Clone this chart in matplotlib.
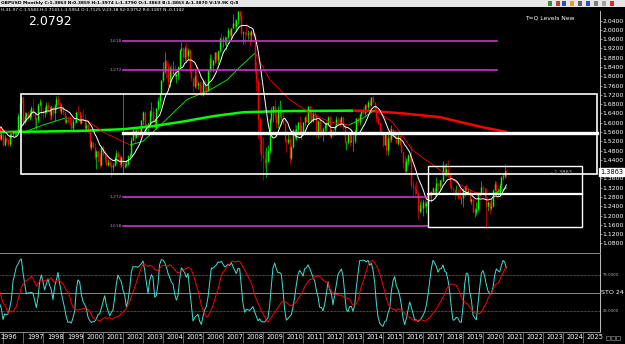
import numpy as np
import pandas as pd
import matplotlib
matplotlib.use("Agg")
import matplotlib.pyplot as plt
import matplotlib.transforms as mtransforms
from matplotlib.collections import LineCollection
from matplotlib.patches import Rectangle

plt.rcParams['font.family'] = ['DejaVu Sans']

W, H = 625, 344

# GBPUSD monthly bars, Jan 1995 .. Mar 2021 (open = previous close)
first_year = 1995
closes = [
    1.582, 1.579, 1.618, 1.611, 1.584, 1.594, 1.600, 1.547, 1.580, 1.580, 1.531, 1.553,  # 1995
    1.505, 1.534, 1.527, 1.508, 1.550, 1.552, 1.554, 1.557, 1.565, 1.630, 1.685, 1.712,  # 1996
    1.603, 1.630, 1.640, 1.620, 1.640, 1.665, 1.640, 1.610, 1.611, 1.675, 1.690, 1.646,  # 1997
    1.641, 1.648, 1.678, 1.668, 1.632, 1.669, 1.640, 1.675, 1.700, 1.680, 1.650, 1.664,  # 1998
    1.644, 1.605, 1.611, 1.609, 1.602, 1.578, 1.607, 1.605, 1.647, 1.646, 1.598, 1.617,  # 1999
    1.614, 1.577, 1.592, 1.564, 1.494, 1.519, 1.497, 1.453, 1.478, 1.451, 1.420, 1.494,  # 2000
    1.464, 1.444, 1.419, 1.431, 1.418, 1.408, 1.420, 1.452, 1.469, 1.452, 1.421, 1.452,  # 2001
    1.414, 1.418, 1.423, 1.456, 1.462, 1.527, 1.567, 1.540, 1.569, 1.562, 1.556, 1.610,  # 2002
    1.648, 1.577, 1.580, 1.596, 1.650, 1.651, 1.610, 1.577, 1.663, 1.694, 1.722, 1.784,  # 2003
    1.822, 1.866, 1.842, 1.774, 1.834, 1.814, 1.818, 1.801, 1.810, 1.838, 1.911, 1.920,  # 2004
    1.883, 1.922, 1.889, 1.911, 1.819, 1.792, 1.758, 1.801, 1.764, 1.770, 1.727, 1.720,  # 2005
    1.778, 1.754, 1.736, 1.825, 1.879, 1.849, 1.868, 1.903, 1.870, 1.907, 1.963, 1.958,  # 2006
    1.962, 1.963, 1.968, 1.999, 1.979, 2.008, 2.031, 2.015, 2.044, 2.081, 2.061, 1.985,  # 2007
    1.989, 1.987, 1.984, 1.985, 1.979, 1.993, 1.980, 1.822, 1.781, 1.616, 1.537, 1.460,  # 2008
    1.449, 1.432, 1.434, 1.480, 1.617, 1.646, 1.671, 1.629, 1.599, 1.646, 1.647, 1.615,  # 2009
    1.598, 1.523, 1.517, 1.529, 1.450, 1.496, 1.569, 1.533, 1.572, 1.603, 1.560, 1.561,  # 2010
    1.603, 1.625, 1.604, 1.670, 1.647, 1.606, 1.643, 1.632, 1.559, 1.606, 1.567, 1.553,  # 2011
    1.576, 1.592, 1.600, 1.624, 1.542, 1.569, 1.568, 1.587, 1.615, 1.614, 1.602, 1.626,  # 2012
    1.587, 1.517, 1.519, 1.553, 1.519, 1.520, 1.521, 1.551, 1.619, 1.603, 1.636, 1.656,  # 2013
    1.643, 1.675, 1.667, 1.688, 1.675, 1.711, 1.688, 1.658, 1.622, 1.600, 1.564, 1.558,  # 2014
    1.505, 1.545, 1.482, 1.534, 1.528, 1.572, 1.562, 1.536, 1.514, 1.543, 1.505, 1.474,  # 2015
    1.425, 1.392, 1.437, 1.461, 1.449, 1.331, 1.322, 1.313, 1.297, 1.221, 1.247, 1.234,  # 2016
    1.258, 1.241, 1.255, 1.294, 1.289, 1.302, 1.321, 1.293, 1.340, 1.328, 1.352, 1.350,  # 2017
    1.419, 1.377, 1.402, 1.376, 1.330, 1.320, 1.313, 1.300, 1.303, 1.276, 1.275, 1.275,  # 2018
    1.311, 1.326, 1.303, 1.304, 1.263, 1.270, 1.216, 1.216, 1.229, 1.294, 1.293, 1.325,  # 2019
    1.320, 1.282, 1.241, 1.258, 1.234, 1.240, 1.310, 1.337, 1.292, 1.293, 1.333, 1.368,  # 2020
    1.371, 1.393, 1.386,                                                                 # 2021
]
highs = [
    1.600, 1.595, 1.625, 1.625, 1.612, 1.606, 1.616, 1.600, 1.588, 1.594, 1.585, 1.560,
    1.557, 1.548, 1.540, 1.532, 1.556, 1.562, 1.565, 1.570, 1.570, 1.640, 1.690, 1.715,
    1.717, 1.645, 1.648, 1.650, 1.653, 1.671, 1.701, 1.648, 1.625, 1.687, 1.704, 1.697,
    1.660, 1.667, 1.689, 1.688, 1.670, 1.677, 1.669, 1.680, 1.713, 1.720, 1.690, 1.686,
    1.672, 1.648, 1.630, 1.629, 1.633, 1.617, 1.615, 1.617, 1.650, 1.677, 1.652, 1.632,
    1.658, 1.637, 1.602, 1.600, 1.573, 1.525, 1.523, 1.511, 1.482, 1.483, 1.471, 1.500,
    1.504, 1.484, 1.463, 1.444, 1.448, 1.423, 1.427, 1.456, 1.481, 1.479, 1.459, 1.458,
    1.459, 1.433, 1.438, 1.463, 1.470, 1.540, 1.584, 1.569, 1.572, 1.575, 1.584, 1.612,
    1.651, 1.650, 1.593, 1.602, 1.653, 1.690, 1.668, 1.615, 1.665, 1.712, 1.726, 1.785,
    1.860, 1.905, 1.870, 1.855, 1.843, 1.853, 1.867, 1.848, 1.812, 1.844, 1.918, 1.949,
    1.926, 1.929, 1.945, 1.921, 1.916, 1.834, 1.796, 1.826, 1.842, 1.781, 1.780, 1.761,
    1.786, 1.784, 1.760, 1.827, 1.895, 1.895, 1.870, 1.905, 1.906, 1.912, 1.969, 1.985,
    1.973, 1.973, 1.969, 2.009, 2.004, 2.009, 2.066, 2.050, 2.047, 2.083, 2.116, 2.071,
    1.996, 1.990, 2.031, 2.000, 1.993, 1.999, 2.006, 1.985, 1.867, 1.790, 1.622, 1.550,
    1.537, 1.484, 1.497, 1.504, 1.620, 1.666, 1.674, 1.701, 1.664, 1.672, 1.697, 1.680,
    1.645, 1.617, 1.536, 1.561, 1.544, 1.506, 1.571, 1.595, 1.590, 1.604, 1.630, 1.590,
    1.604, 1.630, 1.637, 1.673, 1.673, 1.650, 1.647, 1.659, 1.637, 1.613, 1.617, 1.577,
    1.577, 1.597, 1.603, 1.631, 1.628, 1.570, 1.575, 1.588, 1.631, 1.624, 1.617, 1.631,
    1.631, 1.590, 1.523, 1.555, 1.562, 1.575, 1.546, 1.571, 1.621, 1.625, 1.638, 1.660,
    1.666, 1.680, 1.682, 1.696, 1.700, 1.712, 1.719, 1.690, 1.667, 1.628, 1.601, 1.578,
    1.560, 1.553, 1.548, 1.546, 1.582, 1.590, 1.578, 1.574, 1.566, 1.551, 1.545, 1.512,
    1.478, 1.459, 1.447, 1.466, 1.470, 1.502, 1.348, 1.336, 1.350, 1.300, 1.261, 1.270,
    1.270, 1.270, 1.262, 1.297, 1.305, 1.305, 1.322, 1.323, 1.366, 1.342, 1.353, 1.356,
    1.436, 1.422, 1.425, 1.438, 1.384, 1.342, 1.323, 1.314, 1.330, 1.318, 1.322, 1.280,
    1.321, 1.327, 1.338, 1.320, 1.313, 1.276, 1.272, 1.231, 1.258, 1.301, 1.299, 1.351,
    1.330, 1.321, 1.320, 1.265, 1.262, 1.274, 1.314, 1.348, 1.348, 1.318, 1.340, 1.370,
    1.380, 1.424, 1.401,
]
lows = [
    1.555, 1.545, 1.565, 1.595, 1.566, 1.578, 1.585, 1.540, 1.535, 1.567, 1.525, 1.524,
    1.500, 1.503, 1.515, 1.500, 1.501, 1.533, 1.537, 1.541, 1.548, 1.557, 1.620, 1.649,
    1.592, 1.596, 1.608, 1.607, 1.612, 1.625, 1.630, 1.577, 1.575, 1.603, 1.670, 1.625,
    1.614, 1.626, 1.643, 1.651, 1.613, 1.618, 1.625, 1.609, 1.664, 1.670, 1.640, 1.638,
    1.633, 1.596, 1.599, 1.598, 1.589, 1.570, 1.568, 1.589, 1.597, 1.638, 1.594, 1.593,
    1.611, 1.557, 1.565, 1.557, 1.488, 1.482, 1.491, 1.443, 1.402, 1.431, 1.405, 1.412,
    1.455, 1.433, 1.416, 1.414, 1.410, 1.368, 1.393, 1.414, 1.427, 1.436, 1.410, 1.409,
    1.405, 1.407, 1.410, 1.417, 1.441, 1.457, 1.523, 1.513, 1.533, 1.538, 1.540, 1.553,
    1.592, 1.570, 1.555, 1.553, 1.590, 1.630, 1.602, 1.571, 1.572, 1.656, 1.665, 1.718,
    1.777, 1.813, 1.791, 1.758, 1.755, 1.804, 1.811, 1.791, 1.772, 1.790, 1.831, 1.908,
    1.862, 1.866, 1.867, 1.869, 1.814, 1.781, 1.734, 1.748, 1.750, 1.746, 1.719, 1.718,
    1.716, 1.737, 1.724, 1.735, 1.820, 1.818, 1.819, 1.856, 1.858, 1.852, 1.904, 1.947,
    1.927, 1.934, 1.914, 1.961, 1.971, 1.963, 2.007, 1.994, 1.995, 2.024, 2.043, 1.975,
    1.937, 1.939, 1.975, 1.962, 1.931, 1.948, 1.971, 1.812, 1.736, 1.532, 1.468, 1.435,
    1.352, 1.405, 1.366, 1.431, 1.469, 1.601, 1.605, 1.614, 1.579, 1.576, 1.626, 1.590,
    1.588, 1.519, 1.473, 1.508, 1.423, 1.440, 1.492, 1.530, 1.525, 1.558, 1.555, 1.530,
    1.547, 1.586, 1.599, 1.598, 1.611, 1.599, 1.603, 1.620, 1.538, 1.533, 1.538, 1.542,
    1.523, 1.559, 1.566, 1.588, 1.538, 1.533, 1.537, 1.549, 1.582, 1.592, 1.581, 1.599,
    1.570, 1.513, 1.484, 1.510, 1.499, 1.518, 1.480, 1.512, 1.549, 1.588, 1.590, 1.627,
    1.633, 1.633, 1.648, 1.649, 1.669, 1.671, 1.686, 1.653, 1.605, 1.588, 1.558, 1.548,
    1.495, 1.503, 1.459, 1.462, 1.517, 1.519, 1.537, 1.533, 1.513, 1.505, 1.500, 1.468,
    1.406, 1.380, 1.388, 1.420, 1.432, 1.313, 1.280, 1.288, 1.294, 1.184, 1.211, 1.222,
    1.198, 1.234, 1.211, 1.237, 1.281, 1.259, 1.293, 1.273, 1.286, 1.306, 1.305, 1.330,
    1.348, 1.370, 1.370, 1.370, 1.321, 1.305, 1.300, 1.266, 1.290, 1.270, 1.270, 1.249,
    1.238, 1.284, 1.297, 1.290, 1.260, 1.250, 1.212, 1.196, 1.204, 1.220, 1.280, 1.290,
    1.296, 1.272, 1.141, 1.219, 1.207, 1.224, 1.238, 1.307, 1.276, 1.285, 1.285, 1.320,
    1.352, 1.362, 1.368,
]

# moving averages (year, price)
mid_ma_t = [1995.85, 1996.5, 1997.0, 1998.0, 1999.1, 2000.2, 2001.0, 2002.35, 2003.0, 2004.0,
            2005.2, 2006.35, 2007.2, 2007.85, 2008.6, 2009.35, 2010.35, 2011.35, 2012.35,
            2013.3, 2014.0, 2014.6, 2015.5, 2016.5, 2017.85, 2018.7, 2019.6, 2020.4, 2021.2]
mid_ma_v = [1.570, 1.555, 1.558, 1.590, 1.620, 1.610, 1.560, 1.504, 1.520, 1.600,
            1.700, 1.741, 1.784, 1.840, 1.900, 1.784, 1.698, 1.642, 1.603,
            1.590, 1.620, 1.655, 1.600, 1.480, 1.396, 1.340, 1.300, 1.290, 1.320]
slow_ma_t = [1995.85, 1998.0, 2000.0, 2002.0, 2003.5, 2005.0, 2006.5, 2008.0, 2010.0,
             2012.0, 2013.5, 2014.5, 2016.0, 2017.85, 2019.0, 2020.0, 2021.2]
slow_ma_v = [1.560, 1.562, 1.565, 1.572, 1.585, 1.605, 1.628, 1.645, 1.650,
             1.651, 1.652, 1.650, 1.640, 1.624, 1.600, 1.580, 1.560]

# drawn objects
box_big = (1996.9, 2025.7, 1.3786, 1.7241)
box_mid_line = (2002.0, 2025.7, 1.5536)
box_small = (2017.25, 2024.95, 1.1510, 1.4136)
box_small_mid = 1.2916
fib_upper = [1.952, 1.827]
fib_lower = [1.280, 1.155]
fib_labels_upper = ['1.618', '1.272']
fib_labels_lower = ['1.272', '1.618']
fib_x_upper = (2002.0, 2020.7)
fib_x_lower = (2002.0, 2017.25)
vline_t = 2002.0

price_ticks = [2.04, 2.00, 1.96, 1.92, 1.88, 1.84, 1.80, 1.76, 1.72, 1.68, 1.64, 1.60,
               1.56, 1.52, 1.48, 1.44, 1.36, 1.32, 1.28, 1.24, 1.20, 1.16, 1.12, 1.08]
years = list(range(1996, 2026))
last_price = 1.3863
ymax_price = 2.0792

# ---------- derived series ----------
c = np.array(closes)
hi = np.array(highs)
lo = np.array(lows)
o = np.r_[c[0], c[:-1]]
hi = np.maximum(hi, np.maximum(o, c))
lo = np.minimum(lo, np.minimum(o, c))
t = first_year + np.arange(len(c)) / 12.0
sma10 = pd.Series(c).rolling(10).mean().values


def stoch(period, smooth):
    hh = pd.Series(hi).rolling(period, min_periods=1).max()
    ll = pd.Series(lo).rolling(period, min_periods=1).min()
    raw = (pd.Series(c) - ll) / (hh - ll) * 100
    return raw.rolling(smooth, min_periods=1).mean()


k_line = stoch(8, 3)
d_line = stoch(21, 9)


def px(x, y):
    return x / W, 1 - y / H


fig = plt.figure(figsize=(W / 100, H / 100), dpi=100, facecolor='black')

# main price panel
l0, b0 = px(0, 253)
ax = fig.add_axes([l0, b0, 600 / W, (253 - 11.4) / H], facecolor='black')
ax.set_xlim(1995.85, 2025.85)
ax.set_ylim(1.0391, ymax_price)

# stochastic panel
l1, b1 = px(0, 332)
ax2 = fig.add_axes([l1, b1, 600 / W, (332 - 254) / H], facecolor='black')
ax2.set_xlim(1995.85, 2025.85)
ax2.set_ylim(-3, 103)

for a in (ax, ax2):
    for s in a.spines.values():
        s.set_visible(False)
    a.spines['right'].set_visible(True)
    a.spines['right'].set_color('#c0c0c0')
    a.spines['right'].set_linewidth(0.7)
    a.spines['bottom'].set_visible(True)
    a.spines['bottom'].set_color('#8a8a8a')
    a.spines['bottom'].set_linewidth(0.7)

# candles
up = c >= o
body_col = np.where(up, '#00ff00', '#ff0000')
ax.vlines(t, lo, hi, colors=body_col, lw=0.45, zorder=2)
ax.vlines(t, np.minimum(o, c), np.maximum(o, c), colors=body_col, lw=1.05, zorder=2)


def slope_line(a, xs, ys, lw, z):
    xs = np.asarray(xs)
    ys = np.asarray(ys)
    segs = [[(xs[i], ys[i]), (xs[i + 1], ys[i + 1])] for i in range(len(xs) - 1)]
    cols = ['#00ff00' if ys[i + 1] >= ys[i] else '#ff0000' for i in range(len(xs) - 1)]
    a.add_collection(LineCollection(segs, colors=cols, linewidths=lw, zorder=z))


slope_line(ax, slow_ma_t, slow_ma_v, 1.8, 3)
slope_line(ax, mid_ma_t, mid_ma_v, 0.6, 3)
ax.plot(t, sma10, color='white', lw=0.7, zorder=4)

# boxes and levels
x0, x1, y0, y1 = box_big
ax.add_patch(Rectangle((x0, y0), x1 - x0, y1 - y0, fill=False, ec='white', lw=1.2, zorder=5))
ax.plot([box_mid_line[0], box_mid_line[1]], [box_mid_line[2]] * 2, color='white', lw=2.4, zorder=5)
ax.plot([vline_t, vline_t], [y0, y1], color='#808080', lw=0.5, zorder=1)
x0, x1, y0, y1 = box_small
ax.add_patch(Rectangle((x0, y0), x1 - x0, y1 - y0, fill=False, ec='white', lw=1.0, zorder=5))
ax.plot([x0, x1], [box_small_mid] * 2, color='white', lw=1.6, zorder=5)
for lv, lb in zip(fib_upper, fib_labels_upper):
    ax.plot(fib_x_upper, [lv, lv], color='#cc33cc', lw=1.2, zorder=4)
    ax.text(fib_x_upper[0] - 0.05, lv, lb, color='#c080c0', fontsize=3.2, va='center', ha='right', zorder=6)
for lv, lb in zip(fib_lower, fib_labels_lower):
    ax.plot(fib_x_lower, [lv, lv], color='#cc33cc', lw=1.2, zorder=4)
    ax.text(fib_x_lower[0] - 0.05, lv, lb, color='#c080c0', fontsize=3.2, va='center', ha='right', zorder=6)
ax.text(2023.4, last_price, '- 1.3863', color='#b0b0b0', fontsize=3.6, va='center', ha='left', zorder=6)

# price axis
ax.yaxis.tick_right()
ax.set_yticks(price_ticks)
ax.set_yticklabels(['%.4f' % p for p in price_ticks])
ax.tick_params(axis='y', colors='#c0c0c0', labelcolor='white', labelsize=4.4, length=1.2, width=0.5, pad=0.6)
ax.set_xticks([])
ax.text(1.0, last_price, '1.3863', transform=mtransforms.blended_transform_factory(ax.transAxes, ax.transData),
        color='black', fontsize=4.8, va='center', ha='left', zorder=10, clip_on=False,
        bbox=dict(fc='white', ec='white', pad=0.8))

# stochastic
ax2.plot(t, k_line, color='#40e0d0', lw=0.7, zorder=3)
ax2.plot(t, d_line, color='#ff0000', lw=0.7, zorder=3)
ax2.axhline(75, color='#909090', lw=0.5, ls=(0, (1, 1)))
ax2.axhline(25, color='#909090', lw=0.5, ls=(0, (1, 1)))
ax2.axhline(50, color='#a0a0a0', lw=0.6)
ax2.set_yticks([])
ax2.text(1.005, 75, '75.0000', transform=mtransforms.blended_transform_factory(ax2.transAxes, ax2.transData),
         color='#b0b0b0', fontsize=2.8, va='center', ha='left', clip_on=False)
ax2.text(1.005, 25, '25.0000', transform=mtransforms.blended_transform_factory(ax2.transAxes, ax2.transData),
         color='#b0b0b0', fontsize=2.8, va='center', ha='left', clip_on=False)
ax2.text(1.002, 50, 'STO 24', transform=mtransforms.blended_transform_factory(ax2.transAxes, ax2.transData),
         color='white', fontsize=4.6, va='center', ha='left', clip_on=False)

ax2.set_xticks(years)
ax2.set_xticklabels([str(y) for y in years])
ax2.tick_params(axis='x', colors='#909090', labelcolor='white', labelsize=4.8, length=8, width=0.5,
                direction='out', pad=-6.5)
shift = mtransforms.ScaledTranslation(4 / 100, 0, fig.dpi_scale_trans)
for i, lbl in enumerate(ax2.get_xticklabels()):
    lbl.set_horizontalalignment('left')
    if i == 0:
        lbl.set_transform(lbl.get_transform() + mtransforms.ScaledTranslation(-3 / 100, 0, fig.dpi_scale_trans))
    else:
        lbl.set_transform(lbl.get_transform() + shift)

# overlay for header text
ov = fig.add_axes([0, 0, 1, 1], facecolor='none')
ov.set_xlim(0, W)
ov.set_ylim(H, 0)
ov.axis('off')
ov.add_patch(Rectangle((0, 0), W, 6.5, fc='#e6e6e6', ec='none'))
for xi, col in zip([548, 556, 562, 570, 578, 586, 594, 602, 610],
                   ['#3a8a3a', '#c04040', '#3050b0', '#e0a020', '#606060', '#3050b0', '#808080', '#a0a0a0', '#d03030']):
    ov.add_patch(Rectangle((xi, 1), 4, 4.5, fc=col, ec='none'))
ov.text(1, 3.3, 'GBPUSD Monthly C:1.3863 N:0.3859 H:1.3974 L:1.3790 O:1.3863 B:1.3863 A:1.3870 V:19.9K Q:8',
        color='black', fontsize=3.2, va='center', ha='left', fontweight='bold')
ov.text(1, 9.8, 'H-31-97 C:1.5583 H:1.7141 L:1.5954 O:1.7125 V:23.18 S2:0.0752 R:0.1187 N:-0.1142',
        color='white', fontsize=3.1, va='center', ha='left')
ov.text(28, 21.5, '2.0792', color='white', fontsize=9, va='center', ha='left')
ov.text(574, 18.5, 'T=Q Levels New', color='white', fontsize=4.3, va='center', ha='right')
for xi in (606, 611, 616):
    ov.add_patch(Rectangle((xi, 336), 4, 4, fc='none', ec='#a0a0a0', lw=0.4))

fig.savefig('out.png', dpi=100, facecolor='black')
